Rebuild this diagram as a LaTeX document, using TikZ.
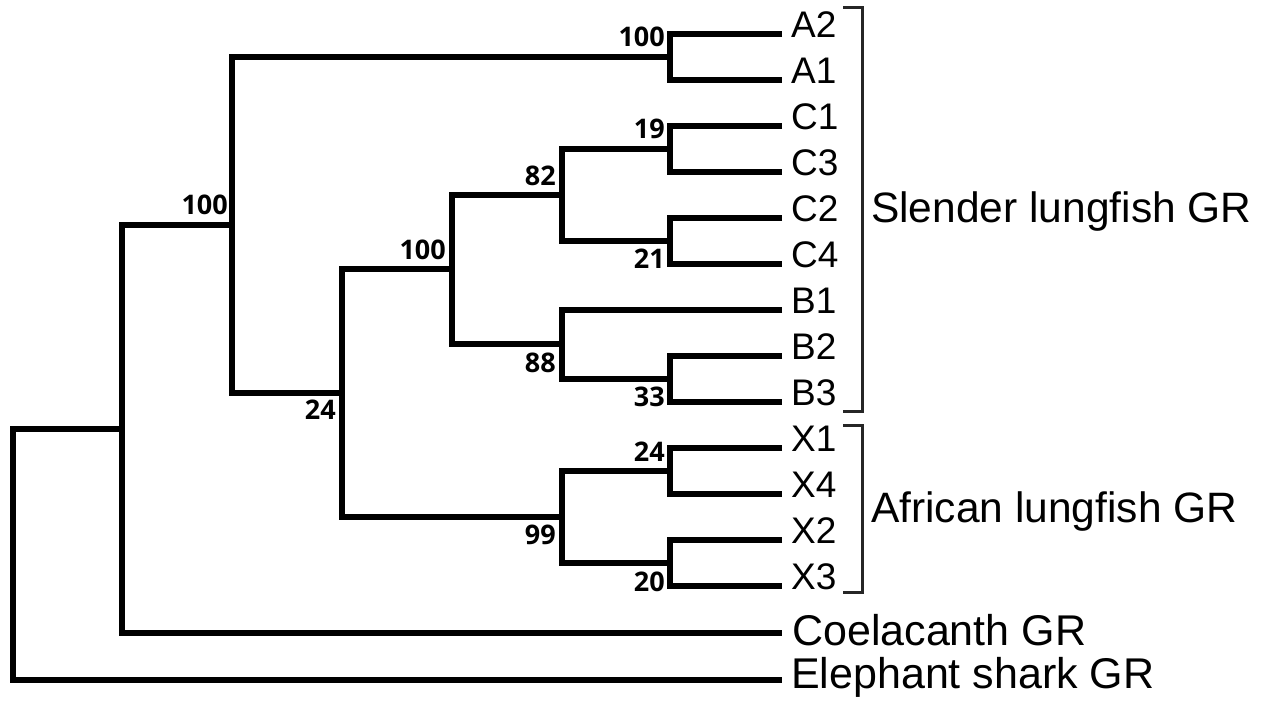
\documentclass[tikz,border=0pt]{standalone}
\usepackage{fontspec}
\setmainfont{Liberation Sans}
\newfontfamily\supfont{Open Sans}
\begin{document}
\begin{tikzpicture}[x=1pt,y=-1pt,
  branch/.style={line width=6pt, line join=miter},
  bracketline/.style={line width=3pt, draw=black!85},
  leaf/.style={anchor=base west, inner sep=0pt, font=\fontsize{37}{42}\selectfont},
  group/.style={anchor=base west, inner sep=0pt, font=\fontsize{42.5}{48}\selectfont},
  outgroup/.style={anchor=base west, inner sep=0pt, font=\fontsize{43}{48}\selectfont},
  support/.style={anchor=east, inner sep=0pt, font=\supfont\bfseries\fontsize{27}{31}\selectfont}]
\useasboundingbox (0,0) rectangle (1270,702);

% leaf tips
\coordinate (eA2) at (782,33.5);
\coordinate (eA1) at (782,79.5);
\coordinate (eC1) at (782,125.5);
\coordinate (eC3) at (782,171.5);
\coordinate (eC2) at (782,217.5);
\coordinate (eC4) at (782,263.5);
\coordinate (eB1) at (782,309.5);
\coordinate (eB2) at (782,355.5);
\coordinate (eB3) at (782,401.5);
\coordinate (eX1) at (782,447.5);
\coordinate (eX4) at (782,493.5);
\coordinate (eX2) at (782,539.5);
\coordinate (eX3) at (782,585.5);
\coordinate (eCo) at (782,633);
\coordinate (eEl) at (782,680);

% internal nodes
\coordinate (nA)    at (670,56.5);
\coordinate (n19)   at (670,148.5);
\coordinate (n21)   at (670,240.5);
\coordinate (n82)   at (562,194.5);
\coordinate (n33)   at (670,378.5);
\coordinate (n88)   at (562,344);
\coordinate (n100b) at (452,269.25);
\coordinate (nX24)  at (670,470.5);
\coordinate (n20)   at (670,562.5);
\coordinate (n99)   at (562,516.5);
\coordinate (n24)   at (342,392.9);
\coordinate (n100a) at (232,224.7);
\coordinate (nIn)   at (122,428.9);
\coordinate (root)  at (13,554);

% branches
\draw[branch] (eA2) -| (nA) |- (eA1);
\draw[branch] (eC1) -| (n19) |- (eC3);
\draw[branch] (eC2) -| (n21) |- (eC4);
\draw[branch] (n19) -| (n82) |- (n21);
\draw[branch] (eB2) -| (n33) |- (eB3);
\draw[branch] (eB1) -| (n88) |- (n33);
\draw[branch] (n82) -| (n100b) |- (n88);
\draw[branch] (eX1) -| (nX24) |- (eX4);
\draw[branch] (eX2) -| (n20) |- (eX3);
\draw[branch] (nX24) -| (n99) |- (n20);
\draw[branch] (n100b) -| (n24) |- (n99);
\draw[branch] (nA) -| (n100a) |- (n24);
\draw[branch] (n100a) -| (nIn) |- (eCo);
\draw[branch] (nIn) -| (root) |- (eEl);

% support values
\node[support] (lA)    at (665,37)  {100};
\node[support] (l19)   at (665,129) {19};
\node[support] (l21)   at (665,259) {21};
\node[support] (l33)   at (665,397) {33};
\node[support] (lX24)  at (665,452) {24};
\node[support] (l20)   at (665,582) {20};
\node[support] (l82)   at (556,176) {82};
\node[support] (l88)   at (556,363) {88};
\node[support] (l99)   at (556,535) {99};
\node[support] (l100b) at (446,250) {100};
\node[support] (l100a) at (228,205) {100};
\node[support] (l24)   at (336,410) {24};

% leaf names
\node[leaf] (A2) at (791,37.5)  {A2};
\node[leaf] (A1) at (791,83.5)  {A1};
\node[leaf] (C1) at (791,129.5) {C1};
\node[leaf] (C3) at (791,175.5) {C3};
\node[leaf] (C2) at (791,221.5) {C2};
\node[leaf] (C4) at (791,267.5) {C4};
\node[leaf] (B1) at (791,313.5) {B1};
\node[leaf] (B2) at (791,359.5) {B2};
\node[leaf] (B3) at (791,405.5) {B3};
\node[leaf] (X1) at (791,451.5) {X1};
\node[leaf] (X4) at (791,497.5) {X4};
\node[leaf] (X2) at (791,543.5) {X2};
\node[leaf] (X3) at (791,589.5) {X3};
\node[outgroup] (Co) at (792,645) {Coelacanth GR};
\node[outgroup] (El) at (791,688) {Elephant shark GR};

% group brackets
\coordinate (sT) at (843,7);
\coordinate (sB) at (843,411);
\coordinate (aT) at (843,425);
\coordinate (aB) at (843,592);
\draw[bracketline] (sT) -- ++(19,0) |- (sB);
\draw[bracketline] (aT) -- ++(19,0) |- (aB);
\node[group] (slender) at (871,222) {Slender lungfish GR};
\node[group] (african) at (871,522) {African lungfish GR};
\end{tikzpicture}
\end{document}
